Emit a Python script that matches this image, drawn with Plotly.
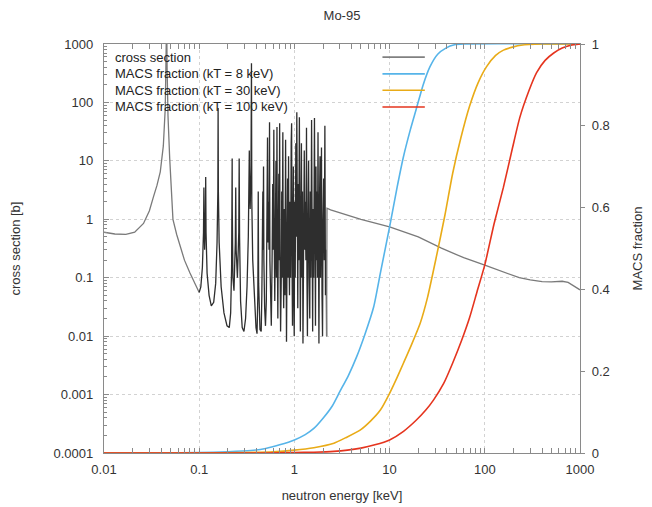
import plotly.graph_objects as go

# ---------------- data ----------------
# cross section, low-energy smooth part (keV, barn)
xs_low_energy = [0.01, 0.013, 0.017, 0.021, 0.026, 0.030, 0.033, 0.036, 0.039, 0.042, 0.044,
                 0.0450, 0.0455, 0.0460, 0.047, 0.049, 0.053, 0.058, 0.063, 0.07, 0.08, 0.09, 0.1]
xs_low_value = [0.6, 0.56, 0.55, 0.6, 0.85, 1.4, 2.4, 3.8, 6.5, 18, 80,
                400, 3000, 400, 60, 11, 1.0, 0.55, 0.36, 0.2, 0.12, 0.08, 0.056]

# resolved resonance region
xs_res_energy = [0.100, 0.104, 0.108, 0.111, 0.112, 0.1125, 0.114, 0.1165, 0.117, 0.118, 0.121, 0.127,
                 0.134, 0.142, 0.149, 0.154, 0.157, 0.158, 0.159, 0.162, 0.17, 0.182, 0.196, 0.207,
                 0.214, 0.219, 0.2215, 0.222, 0.2225, 0.226, 0.232, 0.2395, 0.242, 0.2445, 0.252,
                 0.2605, 0.263, 0.2655, 0.272, 0.283, 0.295, 0.307, 0.318, 0.328, 0.336, 0.338,
                 0.343, 0.350, 0.354, 0.357, 0.365, 0.38, 0.395, 0.405, 0.413, 0.417, 0.421, 0.435,
                 0.448, 0.455, 0.462, 0.466, 0.470, 0.474, 0.478, 0.487, 0.497, 0.507, 0.515, 0.522,
                 0.528, 0.536, 0.542, 0.548, 0.553, 0.562, 0.572, 0.583, 0.592, 0.600, 0.608, 0.614,
                 0.622, 0.632, 0.640, 0.647, 0.656, 0.662, 0.670, 0.678, 0.686, 0.692, 0.700, 0.706,
                 0.716, 0.728, 0.736, 0.744, 0.756, 0.763, 0.772, 0.785, 0.795, 0.808, 0.816, 0.826,
                 0.838, 0.848, 0.858, 0.868, 0.877, 0.888, 0.900, 0.912, 0.925, 0.935, 0.944, 0.955,
                 0.966, 0.976, 0.985, 0.996, 1.008, 1.020, 1.035, 1.048, 1.060, 1.072, 1.085, 1.098,
                 1.11, 1.128, 1.14, 1.155, 1.17, 1.185, 1.2, 1.215, 1.23, 1.25, 1.27, 1.285, 1.3,
                 1.32, 1.34, 1.355, 1.37, 1.39, 1.41, 1.43, 1.45, 1.47, 1.49, 1.515, 1.535, 1.555,
                 1.575, 1.595, 1.625, 1.645, 1.665, 1.685, 1.70, 1.72, 1.745, 1.77, 1.79, 1.81,
                 1.835, 1.86, 1.88, 1.90, 1.925, 1.95, 1.975, 2.0, 2.03, 2.06, 2.09, 2.12, 2.15, 2.18]
xs_res_value = [0.056, 0.07, 0.15, 0.6, 3.5, 0.5, 0.3, 1.2, 5.3, 0.6, 0.12, 0.05,
                0.033, 0.038, 0.08, 0.4, 3, 80, 3, 0.4, 0.07, 0.025, 0.015, 0.014,
                0.025, 0.15, 1.5, 11, 1.5, 0.1, 0.06, 0.4, 3.5, 0.3, 0.1,
                0.6, 11, 0.5, 0.04, 0.014, 0.012, 0.02, 0.07, 0.5, 15, 4,
                1.5, 8, 470, 2, 0.2, 0.04, 0.014, 0.011, 0.05, 3, 0.08, 0.013,
                0.012, 0.05, 0.5, 3, 0.3, 8, 0.2, 0.03, 0.015, 0.04, 0.6, 25,
                0.4, 2, 0.3, 46, 0.2, 0.02, 0.015, 0.2, 4, 0.3, 34, 0.5,
                0.04, 0.8, 10, 0.1, 38, 0.3, 0.02, 0.5, 6, 0.2, 44, 0.3,
                0.012, 0.1, 3, 0.1, 31, 0.2, 0.03, 1.5, 0.05, 23, 0.1, 0.008,
                0.3, 5, 0.1, 12, 0.3, 0.05, 2, 0.1, 20, 44, 0.2, 0.015,
                1, 8, 0.05, 0.01, 2, 0.1, 20, 0.5, 68, 0.3, 0.03, 4,
                0.2, 56, 0.2, 0.012, 1, 20, 0.1, 3, 0.0075, 0.5, 15, 0.3, 2,
                0.2, 37, 0.1, 0.01, 1, 10, 0.1, 0.02, 3, 0.1, 50, 0.2, 0.012,
                1.5, 0.1, 54, 0.3, 0.015, 8, 0.2, 3, 0.1, 31, 0.2, 0.0075,
                2, 12, 0.1, 0.5, 17, 0.05, 0.01, 1, 5, 0.2, 40, 0.05, 0.3, 0.01]

# unresolved / fast region
xs_high_energy = [2.18, 2.2, 2.4, 3, 5, 10, 20, 35, 60, 100, 150, 230, 300, 400, 500, 650, 750, 850, 1000]
xs_high_value = [0.01, 1.55, 1.45, 1.3, 1.0, 0.74, 0.5, 0.32, 0.22, 0.164, 0.13, 0.1, 0.092, 0.086,
                 0.085, 0.087, 0.083, 0.072, 0.062]

# MACS cumulative fractions
macs8_energy = [0.01, 0.04, 0.1, 0.2, 0.35, 0.5, 0.7, 1.0, 1.3, 1.6, 2, 2.5, 3, 3.7, 4.5, 5.5,
                6.8, 8, 10, 12, 14, 16.5, 19, 22.5, 26.5, 32, 39, 48, 60, 1000]
macs8_value = [0.0, 0.0, 0.001, 0.003, 0.006, 0.011, 0.02, 0.032, 0.045, 0.06, 0.085, 0.115, 0.15,
               0.19, 0.235, 0.29, 0.357, 0.44, 0.553, 0.65, 0.725, 0.79, 0.84, 0.9, 0.944, 0.975,
               0.99, 0.998, 1.0, 1.0]
macs30_energy = [0.01, 0.1, 0.3, 0.6, 1, 1.6, 2.6, 3.5, 4.9, 6.3, 8, 10, 12, 14, 17, 21, 25, 31,
                 38, 46, 56, 69, 85, 104, 130, 157, 200, 240, 400, 1000]
macs30_value = [0.0, 0.0, 0.001, 0.003, 0.007, 0.013, 0.024, 0.038, 0.056, 0.078, 0.105, 0.146,
                0.185, 0.22, 0.265, 0.318, 0.38, 0.48, 0.58, 0.684, 0.77, 0.847, 0.905, 0.944,
                0.972, 0.985, 0.993, 0.997, 1.0, 1.0]
macs100_energy = [0.01, 0.5, 1, 1.6, 2.6, 3.6, 5, 7, 10, 14, 19, 24, 29, 37, 46, 57, 69, 83, 100,
                  125, 157, 195, 233, 290, 350, 430, 530, 650, 800, 1000]
macs100_value = [0.0, 0.0, 0.001, 0.002, 0.004, 0.007, 0.012, 0.02, 0.032, 0.053, 0.08, 0.105,
                 0.13, 0.17, 0.22, 0.275, 0.33, 0.395, 0.46, 0.56, 0.65, 0.745, 0.82, 0.885, 0.93,
                 0.96, 0.978, 0.99, 0.997, 1.0]

series_names = ["cross section", "MACS fraction (kT = 8 keV)",
                "MACS fraction (kT = 30 keV)", "MACS fraction (kT = 100 keV)"]
series_colors = ["#808080", "#56b4e9", "#e9ab17", "#e5341e"]

x_tick_vals = [0.01, 0.1, 1, 10, 100, 1000]
x_tick_text = ["0.01", "0.1", "1", "10", "100", "1000"]
y_tick_vals = [0.0001, 0.001, 0.01, 0.1, 1, 10, 100, 1000]
y_tick_text = ["0.0001", "0.001", "0.01", "0.1", "1", "10", "100", "1000"]
y2_tick_vals = [0, 0.2, 0.4, 0.6, 0.8, 1]
y2_tick_text = ["0", "0.2", "0.4", "0.6", "0.8", "1"]

# ---------------- figure ----------------
FONT = "Liberation Sans, Arial, sans-serif"
TXT = "#333333"
fig = go.Figure()

fig.add_trace(go.Scatter(x=xs_low_energy, y=xs_low_value, mode="lines",
                         line=dict(color="#7a7a7a", width=1.3), yaxis="y", showlegend=False))
fig.add_trace(go.Scatter(x=xs_res_energy, y=xs_res_value, mode="lines",
                         line=dict(color="#2e2e2e", width=1.3), yaxis="y", showlegend=False))
fig.add_trace(go.Scatter(x=xs_high_energy, y=xs_high_value, mode="lines",
                         line=dict(color="#7a7a7a", width=1.3), yaxis="y", showlegend=False))

for ex, vy, col in [(macs8_energy, macs8_value, series_colors[1]),
                    (macs30_energy, macs30_value, series_colors[2]),
                    (macs100_energy, macs100_value, series_colors[3])]:
    fig.add_trace(go.Scatter(x=ex, y=vy, mode="lines",
                             line=dict(color=col, width=1.6, shape="spline", smoothing=0.6),
                             yaxis="y2", showlegend=False))

# custom gnuplot-style legend: text left, sample right
legend_rows_y = [0.968, 0.927, 0.887, 0.846]
shapes = []
annotations = []
for name, col, yy in zip(series_names, series_colors, legend_rows_y):
    annotations.append(dict(x=0.019, y=yy, xref="paper", yref="paper", text=name,
                            showarrow=False, xanchor="left", yanchor="middle",
                            font=dict(family=FONT, size=13, color="#222222")))
    shapes.append(dict(type="line", xref="paper", yref="paper", x0=0.585, x1=0.674,
                       y0=yy, y1=yy, line=dict(color=col, width=1.6)))

minor_x = [m * 10 ** e for e in range(-2, 3) for m in range(2, 10)]
minor_y = [m * 10 ** e for e in range(-4, 3) for m in range(2, 10)]

axis_line = "#8a8a8a"
grid_col = "#d2d2d2"
fig.update_layout(
    width=644, height=499,
    margin=dict(l=96, r=72, t=36, b=54),
    paper_bgcolor="white", plot_bgcolor="white",
    title=dict(text="Mo-95", x=0.5186, xanchor="center", y=0.986, yanchor="middle",
               font=dict(family=FONT, size=13, color=TXT)),
    font=dict(family=FONT, size=13, color=TXT),
    xaxis=dict(type="log", range=[-2, 3], tickvals=x_tick_vals, ticktext=x_tick_text,
               ticks="inside", ticklen=5, tickcolor=axis_line, mirror="allticks",
               showline=True, linecolor=axis_line, linewidth=1.3,
               showgrid=True, gridcolor=grid_col, griddash="dot", gridwidth=1,
               zeroline=False, automargin=False, ticklabelstandoff=4,
               minor=dict(ticks="inside", ticklen=3, tickcolor=axis_line,
                          tickvals=minor_x, showgrid=False),
               title=dict(text="neutron energy [keV]", standoff=15,
                          font=dict(family=FONT, size=13, color=TXT)),
               tickfont=dict(family=FONT, size=13, color=TXT)),
    yaxis=dict(type="log", range=[-4, 3], tickvals=y_tick_vals, ticktext=y_tick_text,
               ticks="inside", ticklen=5, tickcolor=axis_line,
               showline=True, linecolor=axis_line, linewidth=1.3,
               showgrid=True, gridcolor=grid_col, griddash="dot", gridwidth=1,
               zeroline=False, automargin=False, ticklabelstandoff=7,
               minor=dict(ticks="inside", ticklen=3, tickcolor=axis_line,
                          tickvals=minor_y, showgrid=False),
               title=dict(text="cross section [b]", standoff=30,
                          font=dict(family=FONT, size=13, color=TXT)),
               tickfont=dict(family=FONT, size=13, color=TXT)),
    yaxis2=dict(overlaying="y", side="right", range=[0, 1], tickvals=y2_tick_vals,
                ticktext=y2_tick_text, ticks="outside", ticklen=4, tickcolor=axis_line,
                showline=True, linecolor=axis_line, linewidth=1.3, showgrid=False,
                zeroline=False, automargin=False, ticklabelstandoff=4,
                title=dict(text="MACS fraction", standoff=24,
                           font=dict(family=FONT, size=13, color=TXT)),
                tickfont=dict(family=FONT, size=13, color=TXT)),
    shapes=shapes,
    annotations=annotations,
    showlegend=False,
)

fig.write_html("out.html")
